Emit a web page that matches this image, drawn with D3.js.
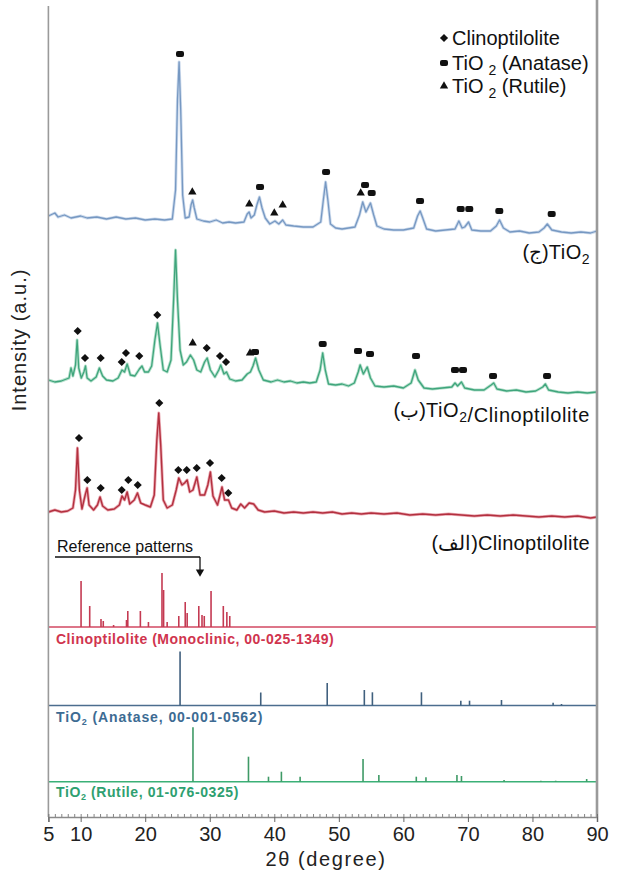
<!DOCTYPE html>
<html>
<head>
<meta charset="utf-8">
<script src="https://cdn.jsdelivr.net/npm/d3@7"></script>
<style>
  body { margin: 0; background: #fff; }
  text { font-family: "Liberation Sans", Arial, sans-serif; }
</style>
</head>
<body>
<div id="chart"></div>
<script>
// XRD patterns: TiO2, TiO2/Clinoptilolite, Clinoptilolite + reference sticks
// intensities are stacked (a.u.), one unit = one pixel of the plot height

const thetaTicks = [5, 10, 20, 30, 40, 50, 60, 70, 80, 90];

// (ج) TiO2 trace  [2theta, intensity]
const tio2Trace = [
  [5, 601], [6, 604], [6.5, 600], [7.5, 602], [8.5, 599], [10, 601], [11, 599], [12.5, 600],
  [14, 598], [15.5, 600], [17, 598], [18.5, 599], [20, 597], [21.5, 598], [23, 597], [24.2, 598],
  [24.7, 627], [25.0, 717], [25.25, 755], [25.5, 707], [25.8, 622], [26.2, 599], [26.8, 600],
  [27.1, 612], [27.35, 617], [27.6, 609], [28.0, 598], [29, 596], [30, 595], [31, 597], [32, 594],
  [33, 595], [34, 594], [35.3, 595], [35.8, 603], [36.1, 605], [36.4, 599], [36.9, 602], [37.3, 612],
  [37.7, 620], [38.1, 609], [38.6, 599], [39.3, 593], [40.1, 596], [40.7, 593], [41.3, 597],
  [41.8, 592], [43, 591], [44.5, 590], [46, 590], [47.2, 595], [47.6, 617], [47.95, 635],
  [48.3, 617], [48.7, 593], [49.5, 589], [50.5, 588], [51.5, 589], [52.5, 590], [53.2, 602],
  [53.7, 615], [54.2, 605], [54.9, 614], [55.4, 602], [55.9, 591], [57, 588], [58.5, 587],
  [60, 587], [61.6, 589], [62.2, 601], [62.6, 606], [63.0, 599], [63.6, 588], [65, 586],
  [66.5, 587], [68.0, 588], [68.6, 596], [69.1, 589], [69.5, 590], [70.1, 595], [70.6, 587],
  [72, 586], [73.5, 586], [74.4, 591], [74.9, 597], [75.5, 589], [76.5, 585], [78, 586],
  [79.5, 584], [81, 585], [81.8, 589], [82.3, 593], [83.0, 587], [84.5, 585], [86, 584],
  [87.5, 585], [89, 584], [90, 586]
];

// (ب) TiO2/Clinoptilolite trace
const compositeTrace = [
  [5, 437], [6, 435], [7, 436], [8.2, 439], [8.5, 449], [8.8, 441], [9.2, 452], [9.45, 477],
  [9.7, 449], [10.1, 439], [10.5, 445], [10.75, 451], [11.0, 439], [11.6, 436], [12.4, 440],
  [12.9, 449], [13.4, 441], [14, 437], [15, 436], [15.8, 439], [16.4, 447], [16.8, 445],
  [17.2, 453], [17.7, 442], [18.4, 441], [19.1, 448], [19.5, 451], [19.9, 445], [20.5, 445],
  [21.0, 451], [21.5, 477], [21.9, 494], [22.3, 472], [22.8, 447], [23.4, 445], [24.0, 457],
  [24.4, 517], [24.7, 567], [25.0, 517], [25.4, 467], [25.9, 452], [26.4, 455], [27.0, 462],
  [27.5, 457], [28.0, 447], [28.6, 445], [29.2, 455], [29.6, 459], [30.1, 447], [30.8, 440],
  [31.4, 447], [31.7, 452], [32.2, 443], [32.6, 445], [33.1, 438], [34, 436], [35, 437],
  [35.8, 443], [36.3, 445], [36.7, 451], [37.1, 459], [37.6, 447], [38.3, 437], [39.5, 435],
  [40.5, 437], [41.5, 435], [42.5, 436], [43.5, 434], [44.5, 435], [45.5, 434], [46.5, 435],
  [47.1, 447], [47.5, 464], [47.9, 447], [48.4, 433], [49.5, 432], [50.5, 433], [51.5, 431],
  [52.4, 434], [53.0, 445], [53.3, 452], [53.8, 443], [54.4, 450], [54.9, 439], [55.6, 431],
  [57, 430], [58.5, 431], [60, 429], [61.2, 434], [61.8, 447], [62.3, 437], [63.2, 429],
  [64.5, 428], [66, 429], [67.5, 430], [68.0, 434], [68.4, 431], [69.0, 435], [69.5, 429],
  [71, 427], [72.5, 427], [73.6, 432], [74.0, 434], [74.5, 428], [76, 426], [77.5, 427],
  [79, 425], [80.5, 426], [81.6, 430], [82.0, 433], [82.5, 427], [84, 425], [85.5, 424],
  [87, 425], [88.5, 424], [90, 425]
];

// (الف) Clinoptilolite trace
const clinoTrace = [
  [5, 305], [6, 307], [7, 305], [8, 306], [8.8, 309], [9.2, 327], [9.5, 369], [9.8, 327],
  [10.2, 308], [10.7, 322], [11.0, 329], [11.3, 312], [12, 307], [12.6, 312], [13.0, 320],
  [13.4, 311], [14.2, 307], [15.2, 308], [16.0, 312], [16.4, 321], [16.8, 317], [17.2, 325],
  [17.6, 313], [18.3, 317], [18.8, 324], [19.3, 314], [20, 312], [20.8, 310], [21.4, 322],
  [21.8, 377], [22.1, 404], [22.4, 372], [22.8, 317], [23.4, 309], [24.2, 312], [24.8, 327],
  [25.2, 339], [25.7, 332], [26.1, 334], [26.5, 337], [26.9, 325], [27.4, 327], [28.0, 340],
  [28.5, 322], [29.2, 322], [29.7, 332], [30.1, 345], [30.5, 321], [31.2, 312], [31.6, 322],
  [31.9, 330], [32.3, 317], [32.9, 317], [33.4, 309], [34.2, 307], [34.8, 313], [35.4, 309],
  [36.1, 314], [36.8, 313], [37.5, 307], [38.5, 305], [40, 306], [41.5, 304], [43, 305],
  [44.5, 304], [46, 305], [47.5, 304], [49, 305], [50.5, 303], [52, 304], [53.5, 303],
  [55, 304], [57, 303], [59, 304], [61, 302], [63, 303], [65, 302], [67, 303], [69, 302],
  [71, 301], [73, 302], [75, 301], [77, 302], [79, 301], [81, 300], [83, 301], [85, 300],
  [87, 301], [89, 299], [90, 300]
];

// phase markers [2theta, intensity]
const tio2Anatase = [[25.39, 763], [37.79, 630], [48.02, 645], [54.06, 632], [55.09, 624],
  [62.58, 616], [68.88, 608], [70.21, 608], [74.86, 606], [82.98, 603]];
const tio2Rutile = [[27.3, 625], [36.13, 613], [40.0, 604], [41.3, 612], [53.39, 624]];
const compClino = [[9.54, 486], [10.67, 459], [13.1, 459], [16.36, 455], [17.02, 464],
  [19.08, 461], [21.87, 502], [29.53, 469], [31.59, 461], [32.52, 455]];
const compRutile = [[27.36, 474], [36.24, 464]];
const compAnatase = [[37.01, 465], [47.5, 473], [52.97, 466], [54.83, 463], [61.96, 461],
  [68.0, 447], [69.24, 447], [73.89, 441], [82.26, 441]];
const clinoMarks = [[9.74, 379], [11.03, 337], [13.1, 329], [16.36, 327], [17.38, 337],
  [18.84, 332], [22.18, 414], [25.13, 347], [26.43, 347], [27.98, 349], [30.04, 354],
  [31.85, 339], [32.87, 324]];

// reference patterns [2theta, stick height]
const refClinoBase = 190;
const refClino = [[10.06, 46], [11.4, 21], [13.15, 8], [13.5, 6], [15.1, 2], [17.1, 7],
  [17.3, 16], [19.25, 16], [20.5, 5], [22.6, 54], [22.85, 37], [23.4, 5], [25.2, 11],
  [26.2, 25], [26.5, 14], [28.3, 21], [28.8, 12], [29.15, 11], [30.2, 36], [32.1, 21],
  [32.65, 15], [33.1, 11]];
const refAnataseBase = 111.5;
const refAnatase = [[25.4, 54], [37.9, 13], [48.2, 22.5], [53.95, 15.5], [55.2, 13.2],
  [62.8, 13.2], [68.9, 4.8], [70.25, 4.8], [75.2, 5.5], [83.2, 2.8], [84.5, 1.5]];
const refRutileBase = 35.3;
const refRutile = [[27.4, 54.4], [36.0, 25], [39.1, 5], [41.1, 10], [44.0, 5], [53.75, 22.7],
  [56.2, 6.7], [62.0, 5], [63.5, 4.4], [68.3, 6.7], [69.0, 5.7], [75.6, 1.7], [81.3, 1],
  [83.6, 1], [88.4, 2.7]];

const width = 627, height = 878;
const plotLeft = 48.4, plotRight = 597, plotTop = 4, plotBottom = 817;

const svg = d3.select('#chart').append('svg')
  .attr('width', width).attr('height', height);

const x = d3.scaleLinear().domain([5, 90]).range([plotLeft, plotRight]);
const y = d3.scaleLinear().domain([0, plotBottom - plotTop]).range([plotBottom, plotTop]);

const line = d3.line().x(d => x(d[0])).y(d => y(d[1]));

// traces (a pale halo under each line, like the scanned original)
const traces = [
  { data: clinoTrace, color: '#b3303f', halo: '#eaa9b2', w: 1.4 },
  { data: compositeTrace, color: '#3fa57c', halo: '#b5e0cc', w: 1.3 },
  { data: tio2Trace, color: '#7698c2', halo: '#ccdaec', w: 1.3 }
];
traces.forEach(t => {
  svg.append('path').datum(t.data)
    .attr('fill', 'none').attr('stroke', t.halo)
    .attr('stroke-width', 3).attr('stroke-linejoin', 'round')
    .attr('d', line);
  svg.append('path').datum(t.data)
    .attr('fill', 'none').attr('stroke', t.color)
    .attr('stroke-width', t.w).attr('stroke-linejoin', 'round')
    .attr('d', line);
});

// reference sticks
const refs = [
  { base: refClinoBase, data: refClino, line: '#d24862', stick: '#c43a52' },
  { base: refAnataseBase, data: refAnatase, line: '#4b6d8e', stick: '#40607e' },
  { base: refRutileBase, data: refRutile, line: '#3bb077', stick: '#3f9a66' }
];
refs.forEach(r => {
  svg.append('line')
    .attr('x1', plotLeft).attr('x2', plotRight)
    .attr('y1', y(r.base)).attr('y2', y(r.base))
    .attr('stroke', r.line).attr('stroke-width', 1.6);
  svg.append('g').selectAll('line').data(r.data).join('line')
    .attr('x1', d => x(d[0])).attr('x2', d => x(d[0]))
    .attr('y1', y(r.base)).attr('y2', d => y(r.base + d[1]))
    .attr('stroke', r.stick).attr('stroke-width', 1.6);
});

// markers
const diamond = d3.symbol().type(d3.symbolDiamond2).size(42);
const tri = d3.symbol().type(d3.symbolTriangle).size(30);
function drawMarks(data, kind) {
  const g = svg.append('g').attr('fill', '#111');
  if (kind === 'anatase') {
    g.selectAll('rect').data(data).join('rect')
      .attr('x', d => x(d[0]) - 4).attr('y', d => y(d[1]) - 3)
      .attr('width', 8).attr('height', 6).attr('rx', 2);
  } else {
    g.selectAll('path').data(data).join('path')
      .attr('transform', d => `translate(${x(d[0])},${y(d[1])})`)
      .attr('d', kind === 'clino' ? diamond : tri);
  }
}
drawMarks(tio2Anatase, 'anatase');
drawMarks(tio2Rutile, 'rutile');
drawMarks(compClino, 'clino');
drawMarks(compRutile, 'rutile');
drawMarks(compAnatase, 'anatase');
drawMarks(clinoMarks, 'clino');

// frame
svg.append('line').attr('x1', plotLeft).attr('x2', plotLeft).attr('y1', plotTop + 2).attr('y2', plotBottom)
  .attr('stroke', '#9a9a9a').attr('stroke-width', 1.6);
svg.append('line').attr('x1', plotRight).attr('x2', plotRight).attr('y1', 0).attr('y2', plotBottom)
  .attr('stroke', '#9a9a9a').attr('stroke-width', 2.6);

// x axis: minor ticks every degree, labelled majors
const minor = svg.append('g').attr('transform', `translate(0,${plotBottom})`)
  .call(d3.axisBottom(x).tickValues(d3.range(5, 91, 1)).tickSize(-3).tickFormat(''));
minor.select('.domain').remove();
minor.selectAll('.tick line').attr('stroke', '#666').attr('stroke-width', 0.8);

const xAxis = svg.append('g').attr('transform', `translate(0,${plotBottom})`)
  .call(d3.axisBottom(x).tickValues(thetaTicks).tickSize(5).tickPadding(5).tickFormat(d3.format('d')));
xAxis.select('.domain').attr('stroke', '#8a8a8a').attr('stroke-width', 1.6);
xAxis.selectAll('.tick line').attr('stroke', '#666');
xAxis.selectAll('text').attr('font-size', 20).attr('fill', '#222')
  .attr('font-family', '"Liberation Sans", Arial, sans-serif');

svg.append('text').attr('x', 326).attr('y', 866)
  .attr('text-anchor', 'middle').attr('font-size', 20).attr('letter-spacing', 1.6)
  .attr('fill', '#222').text('2θ (degree)');

svg.append('text').attr('transform', 'translate(26,340) rotate(-90)')
  .attr('text-anchor', 'middle').attr('font-size', 20).attr('letter-spacing', 1)
  .attr('fill', '#222').text('Intensity (a.u.)');

// legend
const legend = [
  { kind: 'clino', name: 'Clinoptilolite', sub: null, yy: 45 },
  { kind: 'anatase', name: 'TiO', sub: ' (Anatase)', yy: 70 },
  { kind: 'rutile', name: 'TiO', sub: ' (Rutile)', yy: 93 }
];
legend.forEach(l => {
  const mx = 444, my = l.yy - 7;
  if (l.kind === 'anatase') {
    svg.append('rect').attr('x', mx - 4).attr('y', my - 3).attr('width', 8).attr('height', 6)
      .attr('rx', 2).attr('fill', '#111');
  } else {
    svg.append('path').attr('transform', `translate(${mx},${my})`)
      .attr('d', l.kind === 'clino' ? diamond : tri).attr('fill', '#111');
  }
  const t = svg.append('text').attr('x', 452).attr('y', l.yy).attr('font-size', 20).attr('fill', '#111');
  t.append('tspan').text(l.name);
  if (l.sub) {
    t.append('tspan').attr('dx', 5).attr('dy', 5).attr('font-size', 14).text('2');
    t.append('tspan').attr('dy', -5).text(l.sub);
  }
});

// sample labels, right aligned at the plot edge
function sampleLabel(yy, parts, spacing) {
  const t = svg.append('text').attr('x', 590).attr('y', yy).attr('text-anchor', 'end')
    .attr('font-size', 20).attr('letter-spacing', spacing).attr('fill', '#111');
  parts.forEach(p => {
    if (p.sub) {
      t.append('tspan').attr('dy', 5).attr('font-size', 14).text(p.text);
      t.append('tspan').attr('dy', -5).text('');
    } else {
      t.append('tspan').text(p.text);
    }
  });
}
sampleLabel(259, [{ text: '(ج)' }, { text: 'TiO' }, { text: '2', sub: true }], 0.5);
sampleLabel(417, [{ text: '(ب)' }, { text: 'TiO' }, { text: '2', sub: true }, { text: '/Clinoptilolite' }], 0.6);
sampleLabel(550, [{ text: '(الف)' }, { text: 'Clinoptilolite' }], 0.3);

// reference annotation
svg.append('text').attr('x', 57).attr('y', 552).attr('font-size', 16).attr('fill', '#111')
  .text('Reference patterns');
svg.append('line').attr('x1', 55).attr('x2', 200).attr('y1', 557).attr('y2', 557)
  .attr('stroke', '#111').attr('stroke-width', 1.3);
svg.append('line').attr('x1', 200).attr('x2', 200).attr('y1', 557).attr('y2', 570)
  .attr('stroke', '#111').attr('stroke-width', 1.3);
svg.append('path').attr('d', d3.symbol().type(d3.symbolTriangle).size(30)())
  .attr('transform', 'translate(200,572) rotate(180)').attr('fill', '#111');

const refLabels = [
  { parts: ['Clinoptilolite (Monoclinic, 00-025-1349)'], yy: 644, color: '#d0344e', ls: 0.5 },
  { parts: ['TiO', '2', ' (Anatase, 00-001-0562)'], yy: 722, color: '#3d6b93', ls: 0.9 },
  { parts: ['TiO', '2', ' (Rutile, 01-076-0325)'], yy: 797, color: '#2ea070', ls: 0.6 }
];
refLabels.forEach(r => {
  const t = svg.append('text').attr('x', 56).attr('y', r.yy).attr('font-size', 14)
    .attr('font-weight', 'bold').attr('letter-spacing', r.ls).attr('fill', r.color);
  t.append('tspan').text(r.parts[0]);
  if (r.parts.length > 1) {
    t.append('tspan').attr('dy', 3).attr('font-size', 9).text(r.parts[1]);
    t.append('tspan').attr('dy', -3).text(r.parts[2]);
  }
});
</script>
</body>
</html>
